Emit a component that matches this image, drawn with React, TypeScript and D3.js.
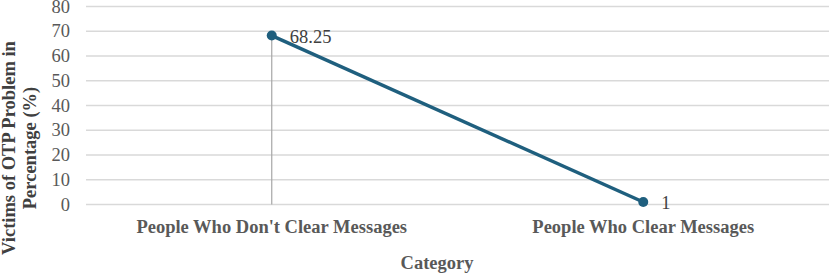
import { useEffect, useRef } from "react";
import * as d3 from "d3";

const W = 830;
const H = 273;

const CATEGORIES = ["People Who Don't Clear Messages", "People Who Clear Messages"];
const VALUES = [68.25, 1];
const LABELS = ["68.25", "1"];
const Y_TICKS = [0, 10, 20, 30, 40, 50, 60, 70, 80];

const LINE_COLOR = "#1f5f7e";
const GRID = "#d9d9d9";
const FONT = "'Liberation Serif', 'Times New Roman', serif";
const FS = 18.5;

export default function App() {
  const ref = useRef<SVGSVGElement>(null);

  useEffect(() => {
    if (!ref.current) return;
    const svg = d3.select(ref.current);
    svg.selectAll("*").remove();

    const left = 86, right = 829, top = 6.5, bottom = 204.5;

    const x = d3.scaleBand<string>().domain(CATEGORIES).range([left, right]);
    const y = d3.scaleLinear().domain([0, 80]).range([bottom, top]);
    const cx = (c: string) => (x(c) as number) + x.bandwidth() / 2;

    // グリッド
    svg.append("g").selectAll("line").data(Y_TICKS).join("line")
      .attr("x1", left).attr("x2", right)
      .attr("y1", (d) => y(d)).attr("y2", (d) => y(d))
      .attr("stroke", GRID).attr("stroke-width", 1.5);

    // 目盛りラベル
    svg.append("g").selectAll("text").data(Y_TICKS).join("text")
      .attr("x", 70).attr("y", (d) => y(d))
      .attr("text-anchor", "end").attr("dominant-baseline", "central")
      .attr("font-family", FONT).attr("font-size", FS).attr("fill", "#595959")
      .text((d) => d);

    // ドロップライン
    svg.append("line")
      .attr("x1", cx(CATEGORIES[0])).attr("x2", cx(CATEGORIES[0]))
      .attr("y1", y(VALUES[0])).attr("y2", y(0))
      .attr("stroke", "#a6a6a6").attr("stroke-width", 1.2);

    const line = d3.line<number>()
      .x((_, i) => cx(CATEGORIES[i]))
      .y((d) => y(d));
    svg.append("path").datum(VALUES)
      .attr("d", line)
      .attr("fill", "none").attr("stroke", LINE_COLOR).attr("stroke-width", 3.5);

    svg.append("g").selectAll("circle").data(VALUES).join("circle")
      .attr("cx", (_, i) => cx(CATEGORIES[i])).attr("cy", (d) => y(d))
      .attr("r", 5).attr("fill", LINE_COLOR);

    // データラベル
    svg.append("g").selectAll("text").data(VALUES).join("text")
      .attr("x", (_, i) => cx(CATEGORIES[i]) + 18)
      .attr("y", (d) => y(d) + 1)
      .attr("dominant-baseline", "central")
      .attr("font-family", FONT).attr("font-size", FS).attr("fill", "#404040")
      .text((_, i) => LABELS[i]);

    // カテゴリラベル
    svg.append("g").selectAll("text").data(CATEGORIES).join("text")
      .attr("x", (d) => cx(d)).attr("y", 233)
      .attr("text-anchor", "middle")
      .attr("font-family", FONT).attr("font-size", FS).attr("font-weight", "bold")
      .attr("fill", "#595959")
      .text((d) => d);

    // 軸タイトル
    svg.append("text")
      .attr("x", 437).attr("y", 269)
      .attr("text-anchor", "middle")
      .attr("font-family", FONT).attr("font-size", FS).attr("font-weight", "bold")
      .attr("fill", "#595959")
      .text("Category");

    const yt = svg.append("text")
      .attr("transform", "translate(0,148) rotate(-90)")
      .attr("text-anchor", "middle")
      .attr("font-family", FONT).attr("font-size", FS).attr("font-weight", "bold")
      .attr("fill", "#404040");
    yt.append("tspan").attr("x", 0).attr("y", 15).text("Victims of OTP Problem in");
    yt.append("tspan").attr("x", 0).attr("y", 36).text("Percentage (%)");
  }, []);

  return (
    <svg ref={ref} width={W} height={H} viewBox={`0 0 ${W} ${H}`}
      style={{ position: "absolute", left: 0, top: 0, background: "#fff" }} />
  );
}
